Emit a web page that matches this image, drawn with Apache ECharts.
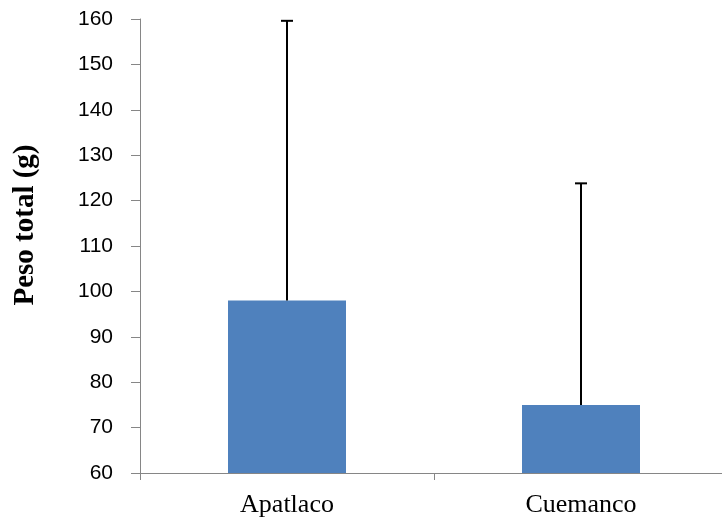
<!DOCTYPE html>
<html><head><meta charset="utf-8">
<script src="https://cdn.jsdelivr.net/npm/echarts@6/dist/echarts.min.js"></script>
<style>html,body{margin:0;padding:0;background:#fff;overflow:hidden}#c{width:728px;height:520px}</style>
</head><body><div id="c"></div>
<script>
const categories = ['Apatlaco', 'Cuemanco'];
const means = [98, 75];
const upperErr = [159.6, 123.8];
const yTicks = {min: 60, max: 160, interval: 10};
const yTitle = 'Peso total (g)';

const chart = echarts.init(document.getElementById('c'), null, {renderer: 'canvas'});
chart.setOption({
  animation: false,
  backgroundColor: '#fff',
  grid: {left: 140, top: 19, bottom: 47, right: 0},
  xAxis: {
    type: 'category', data: categories,
    axisLine: {lineStyle: {color: '#868686', width: 1}},
    axisTick: {show: true, alignWithLabel: false, length: 7, lineStyle: {color: '#868686'}},
    axisLabel: {fontFamily: 'Liberation Serif', fontSize: 26, color: '#000', margin: 19}
  },
  yAxis: {
    type: 'value', min: yTicks.min, max: yTicks.max, interval: yTicks.interval,
    axisLine: {show: true, lineStyle: {color: '#868686', width: 1}},
    axisTick: {show: true, length: 9, lineStyle: {color: '#868686'}},
    splitLine: {show: false},
    axisLabel: {fontFamily: 'Liberation Sans', fontSize: 21, color: '#000', margin: 27}
  },
  graphic: [{
    type: 'text', x: 26, y: 225, rotation: Math.PI / 2,
    style: {text: yTitle, font: 'bold 29px "Liberation Serif"', fill: '#000', align: 'center', verticalAlign: 'middle'}
  }],
  series: [
    {type: 'bar', data: means, barWidth: 118, itemStyle: {color: '#4F81BD'}},
    {
      type: 'custom', z: 5,
      data: categories.map((c, i) => [i, means[i], upperErr[i]]),
      renderItem: function (params, api) {
        const x = api.value(0);
        const lo = api.coord([x, api.value(1)]);
        const hi = api.coord([x, api.value(2)]);
        const cap = 6;
        return {type: 'group', children: [
          {type: 'line', shape: {x1: lo[0], y1: lo[1], x2: hi[0], y2: hi[1]}, style: {stroke: '#000', lineWidth: 2}},
          {type: 'line', shape: {x1: hi[0] - cap, y1: hi[1], x2: hi[0] + cap, y2: hi[1]}, style: {stroke: '#000', lineWidth: 2}}
        ]};
      }
    }
  ]
});
</script></body></html>
